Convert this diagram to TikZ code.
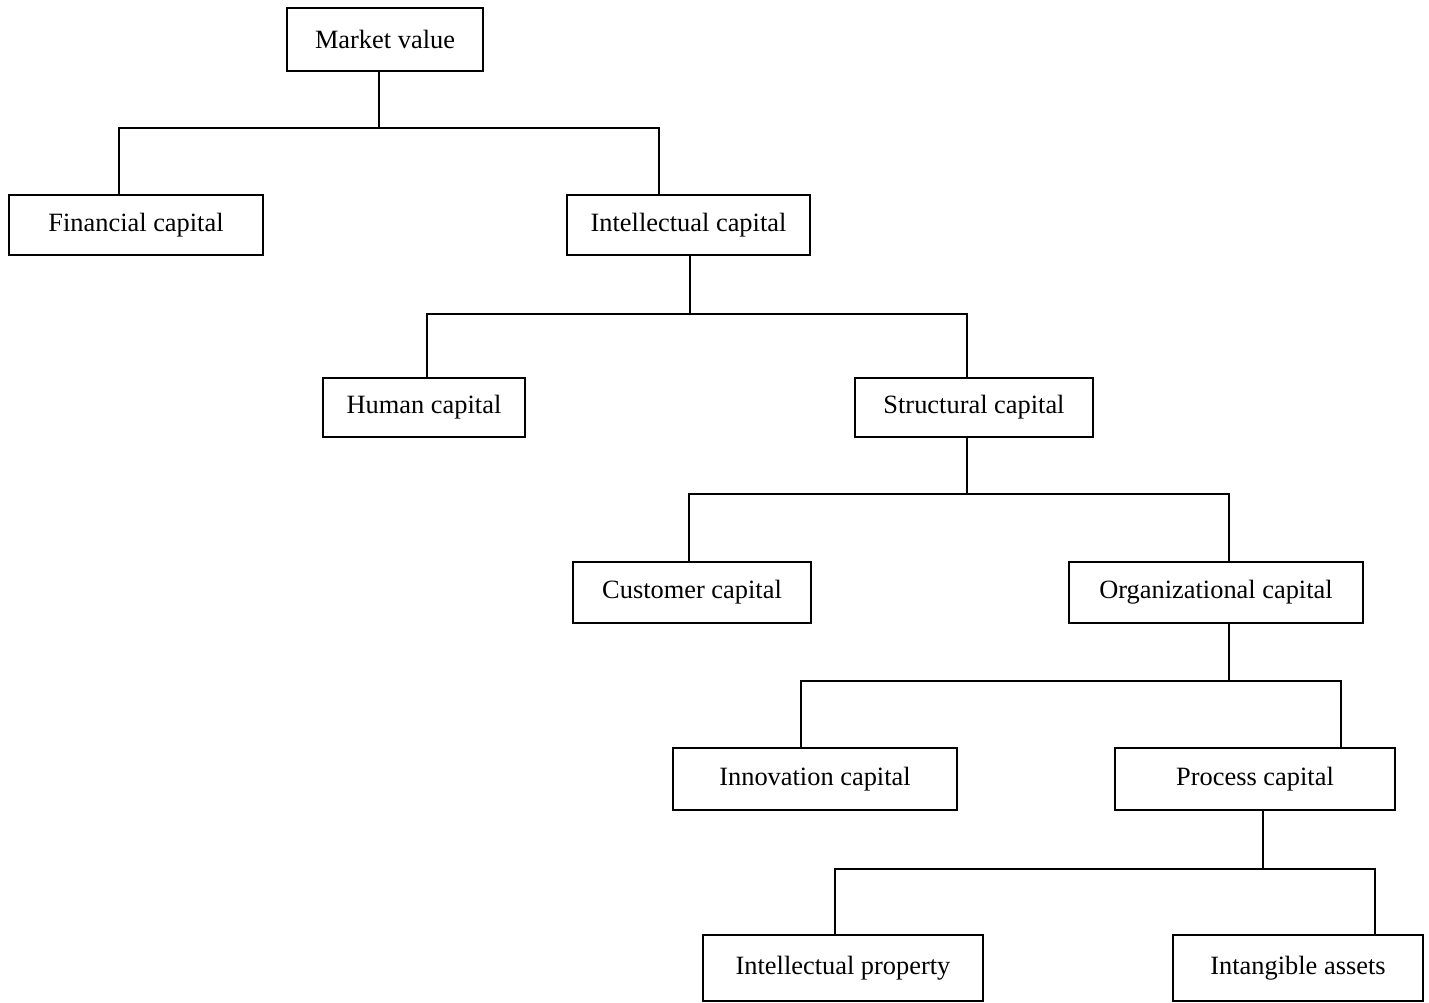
\documentclass[tikz,border=0pt]{standalone}
\usepackage{fontspec}
\setmainfont{Liberation Serif}
\begin{document}
\begin{tikzpicture}[x=1pt,y=-1pt,
  box/.style={draw,line width=2pt,inner sep=0pt,font=\fontsize{26.4}{30}\selectfont},
  conn/.style={line width=2pt}]
\useasboundingbox (0,0) rectangle (1429,1003);
\node[box,minimum width=196pt,minimum height=63pt] (mv) at (385,39.5) {Market value};
\node[box,minimum width=254pt,minimum height=60pt] (fin) at (136,225) {Financial capital};
\node[box,minimum width=243pt,minimum height=60pt] (int) at (688.5,225) {Intellectual capital};
\node[box,minimum width=202pt,minimum height=59pt] (hum) at (424,407.5) {Human capital};
\node[box,minimum width=238pt,minimum height=59pt] (str) at (974,407.5) {Structural capital};
\node[box,minimum width=238pt,minimum height=61pt] (cus) at (692,592.5) {Customer capital};
\node[box,minimum width=294pt,minimum height=61pt] (org) at (1216,592.5) {Organizational capital};
\node[box,minimum width=284pt,minimum height=62pt] (inn) at (815,779) {Innovation capital};
\node[box,minimum width=280pt,minimum height=62pt] (pro) at (1255,779) {Process capital};
\node[box,minimum width=280pt,minimum height=66pt] (ip) at (843,968) {Intellectual property};
\node[box,minimum width=250pt,minimum height=66pt] (ia) at (1298,968) {Intangible assets};
% junctions
\coordinate (j1) at (379,128); \coordinate (a1) at (119,128); \coordinate (b1) at (659,128);
\coordinate (j2) at (690,314); \coordinate (a2) at (427,314); \coordinate (b2) at (967,314);
\coordinate (j3) at (967,494); \coordinate (a3) at (689,494); \coordinate (b3) at (1229,494);
\coordinate (j4) at (1229,681); \coordinate (a4) at (801,681); \coordinate (b4) at (1341,681);
\coordinate (j5) at (1263,869); \coordinate (a5) at (835,869); \coordinate (b5) at (1375,869);
\draw[conn] (j1 |- mv.south) -- (j1);
\draw[conn] (a1 |- fin.north) -- (a1) -- (b1) -- (b1 |- int.north);
\draw[conn] (j2 |- int.south) -- (j2);
\draw[conn] (a2 |- hum.north) -- (a2) -- (b2) -- (b2 |- str.north);
\draw[conn] (j3 |- str.south) -- (j3);
\draw[conn] (a3 |- cus.north) -- (a3) -- (b3) -- (b3 |- org.north);
\draw[conn] (j4 |- org.south) -- (j4);
\draw[conn] (a4 |- inn.north) -- (a4) -- (b4) -- (b4 |- pro.north);
\draw[conn] (j5 |- pro.south) -- (j5);
\draw[conn] (a5 |- ip.north) -- (a5) -- (b5) -- (b5 |- ia.north);
\end{tikzpicture}
\end{document}
